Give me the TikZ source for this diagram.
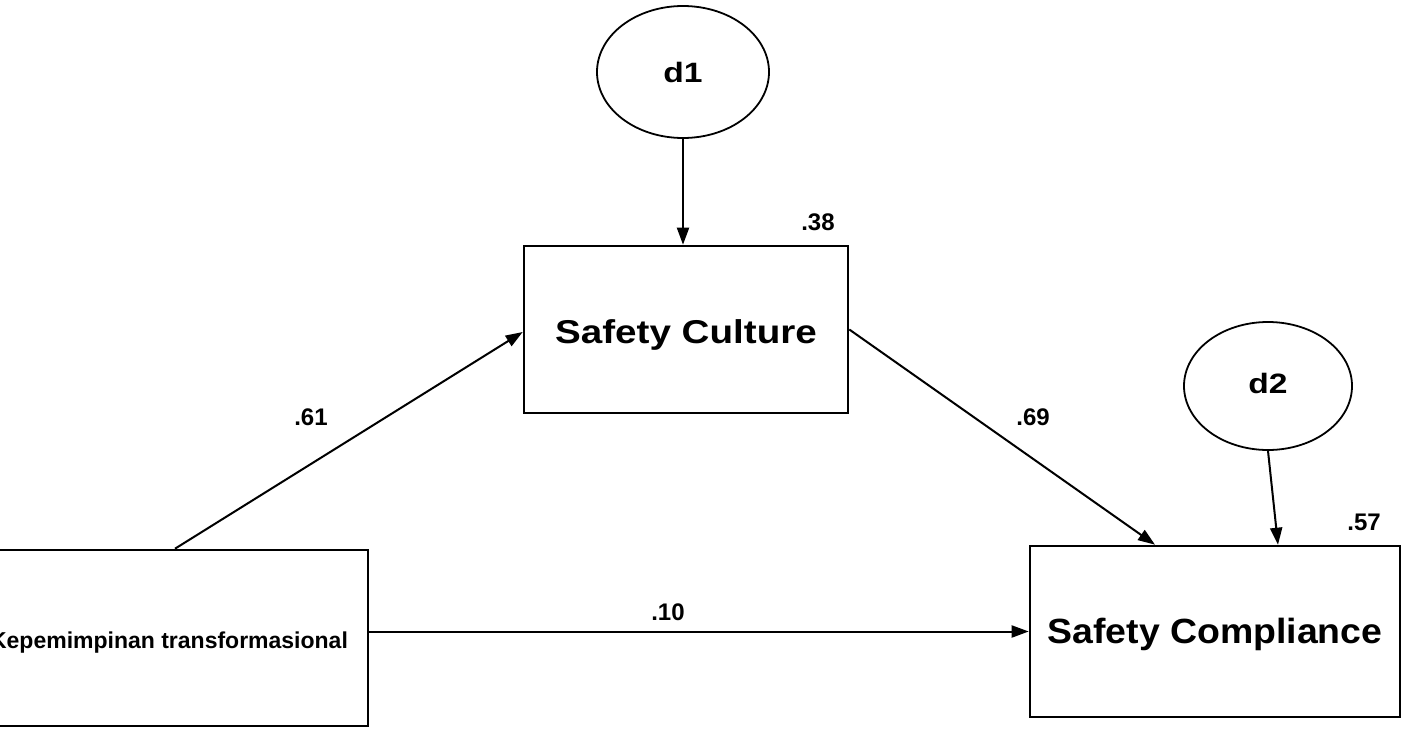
\documentclass[tikz,border=0pt]{standalone}
\usepackage{fontspec}
\setmainfont{Liberation Sans}
\usetikzlibrary{shapes.geometric,arrows.meta,calc}
\begin{document}
\begin{tikzpicture}[x=1pt,y=-1pt,
  boxnode/.style={draw,line width=2.6pt,rectangle,inner sep=0pt,font=\bfseries},
  errnode/.style={draw,line width=1.8pt,ellipse,inner sep=0pt,font=\bfseries\fontsize{28}{28}\selectfont,text depth=0pt},
  pathline/.style={line width=2pt,-{Triangle[length=17pt,width=12pt]}},
  coef/.style={inner sep=0pt,anchor=base,font=\bfseries\fontsize{24}{24}\selectfont}]
\useasboundingbox (0,0) rectangle (1411,733);
\clip (0,0) rectangle (1411,733);
\node[boxnode,minimum width=398pt,minimum height=176pt,text height=20pt,text depth=0pt,
  font=\bfseries\fontsize{23}{23}\selectfont] (kep) at (169,638) {Kepemimpinan transformasional};
\node[boxnode,minimum width=324pt,minimum height=167pt,text height=27pt,text depth=0pt,
  font=\bfseries\fontsize{33}{33}\selectfont] (sc) at (686,329.5) {\scalebox{1.17}[1]{Safety Culture}};
\node[boxnode,minimum width=370pt,minimum height=171pt,text height=23pt,text depth=0pt,
  font=\bfseries\fontsize{35}{35}\selectfont] (cmp) at (1215,631.5) {\scalebox{1.07}[1]{Safety Compliance}};
\node[errnode,minimum width=172pt,minimum height=132pt,text height=22pt] (d1) at (683,72) {\scalebox{1.2}[1]{d1}};
\node[errnode,minimum width=168pt,minimum height=128pt,text height=14pt] (d2) at (1268,386) {\scalebox{1.2}[1]{d2}};
\draw[pathline] (d1.south) -- (d1.south |- sc.north);
\draw[pathline] (d2.south) -- ($(cmp.north)+(63,0)$);
\draw[pathline] ($(kep.north)+(6,0)$) -- ($(sc.west)+(0,2.5)$);
\draw[pathline] (sc.east) -- ($(cmp.north)+(-60,0)$);
\draw[pathline] (kep.east |- cmp.west) -- (cmp.west);
\node[coef] (r38) at (818,230) {.38};
\node[coef] (r57) at (1364,530) {.57};
\node[coef] (p61) at (311,425) {.61};
\node[coef] (p69) at (1033,425) {.69};
\node[coef] (p10) at (668,620) {.10};
\end{tikzpicture}
\end{document}
